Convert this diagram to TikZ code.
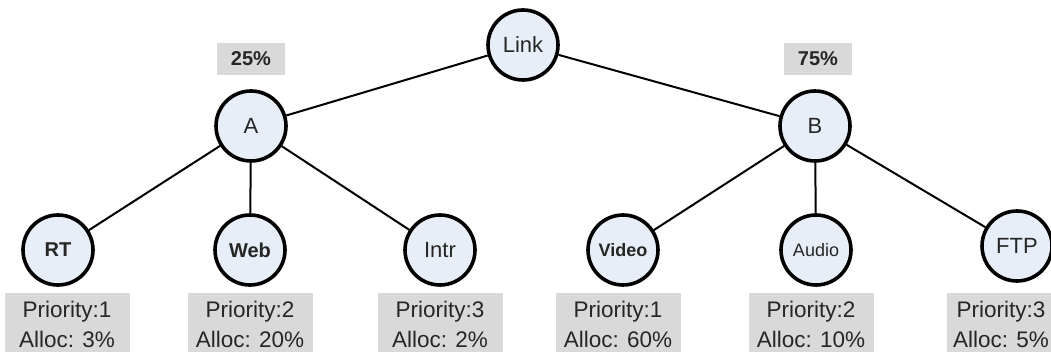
\documentclass[tikz,border=0pt]{standalone}
\usepackage{fontspec}
\setmainfont{Liberation Sans}
\definecolor{nodefill}{HTML}{E8EEF7}
\definecolor{boxfill}{HTML}{D9D9D9}
\definecolor{txt}{HTML}{262626}
\begin{document}
\begin{tikzpicture}[x=1pt,y=-1pt,
  tnode/.style={circle,draw=black,line width=3.6pt,fill=nodefill,minimum size=70pt,inner sep=0pt,text=txt,font=\fontsize{22}{24}\selectfont},
  pct/.style={fill=boxfill,minimum width=68pt,minimum height=32pt,inner sep=0pt,text=txt,font=\fontsize{20}{22}\selectfont\bfseries},
  info/.style={fill=boxfill,minimum width=125pt,minimum height=62pt,inner sep=0pt,text=txt,align=center,font=\fontsize{22.5}{30}\selectfont},
  edge/.style={line width=2pt,draw=black}]
\useasboundingbox (0,0) rectangle (1051,352);
\node[tnode] (link) at (523,45) {Link};
\node[tnode] (A) at (251,126) {A};
\node[tnode] (B) at (815,126) {B};
\node[pct] (pa) at (251,59) {25\%};
\node[pct] (pb) at (818,59) {75\%};
\node[tnode,font=\fontsize{20}{22}\selectfont\bfseries] (rt) at (58,250) {RT};
\node[tnode,font=\fontsize{20}{22}\selectfont\bfseries] (web) at (250,250) {Web};
\node[tnode] (intr) at (440,250) {Intr};
\node[tnode,font=\fontsize{18}{20}\selectfont\bfseries] (video) at (623,250) {Video};
\node[tnode,font=\fontsize{18}{20}\selectfont] (audio) at (816,250) {Audio};
\node[tnode] (ftp) at (1017,246) {FTP};
\draw[edge] (link) -- (A);
\draw[edge] (link) -- (B);
\draw[edge] (A) -- (rt);
\draw[edge] (A) -- (web);
\draw[edge] (A) -- (intr);
\draw[edge] (B) -- (video);
\draw[edge] (B) -- (audio);
\draw[edge] (B) -- (ftp);
\node[info] (i1) at (67,324) {Priority:1\\Alloc: 3\%};
\node[info] (i2) at (250,324) {Priority:2\\Alloc: 20\%};
\node[info] (i3) at (440,324) {Priority:3\\Alloc: 2\%};
\node[info] (i4) at (618,324) {Priority:1\\Alloc: 60\%};
\node[info] (i5) at (811,324) {Priority:2\\Alloc: 10\%};
\node[info,minimum width=108pt] (i6) at (1001,324) {Priority:3\\Alloc: 5\%};
\end{tikzpicture}
\end{document}
